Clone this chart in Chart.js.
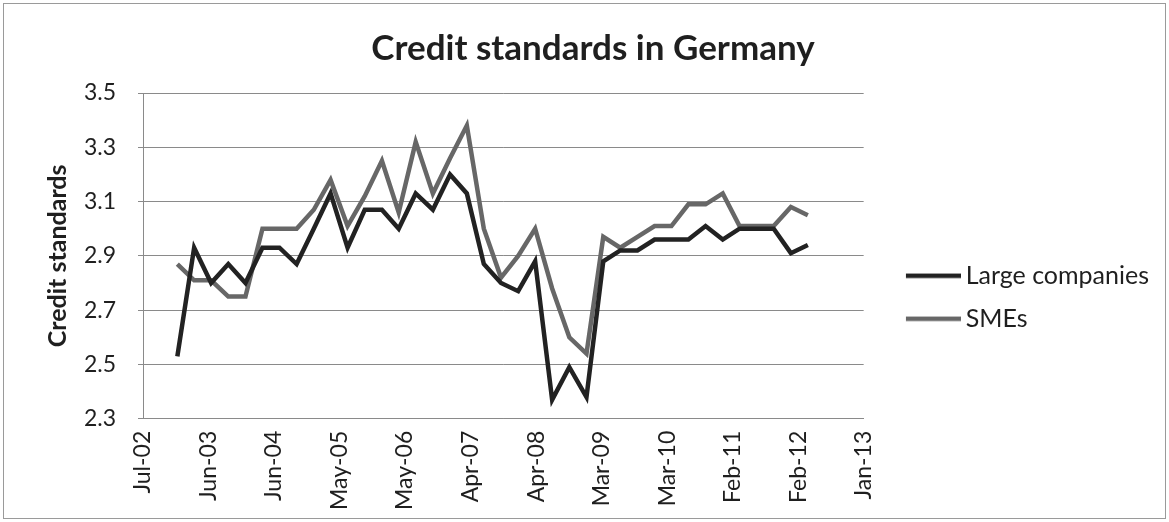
<!DOCTYPE html>
<html>
<head>
<meta charset="utf-8">
<title>Credit standards in Germany</title>
<script src="https://cdn.jsdelivr.net/npm/chart.js@4.4.1/dist/chart.umd.min.js"></script>
<style>
  html, body { margin: 0; padding: 0; background: #fff; }
  #wrap { position: relative; width: 1169px; height: 522px; }
  #frame { position: absolute; left: 3px; top: 3px; width: 1161px; height: 514px;
           border: 1px solid #9a9a9a; pointer-events: none; }
  canvas { display: block; }
</style>
</head>
<body>
<div id="wrap">
  <canvas id="chart" width="1169" height="522"></canvas>
  <div id="frame"></div>
</div>
<script>
// Survey dates (quarterly, first month of each quarter)
const quarters = [
  '2003-01','2003-04','2003-07','2003-10',
  '2004-01','2004-04','2004-07','2004-10',
  '2005-01','2005-04','2005-07','2005-10',
  '2006-01','2006-04','2006-07','2006-10',
  '2007-01','2007-04','2007-07','2007-10',
  '2008-01','2008-04','2008-07','2008-10',
  '2009-01','2009-04','2009-07','2009-10',
  '2010-01','2010-04','2010-07','2010-10',
  '2011-01','2011-04','2011-07','2011-10',
  '2012-01','2012-04'
];

const largeCompanies = [
  2.53, 2.93, 2.80, 2.87,
  2.80, 2.93, 2.93, 2.87,
  3.00, 3.13, 2.93, 3.07,
  3.07, 3.00, 3.13, 3.07,
  3.20, 3.13, 2.87, 2.80,
  2.77, 2.88, 2.37, 2.49,
  2.38, 2.88, 2.92, 2.92,
  2.96, 2.96, 2.96, 3.01,
  2.96, 3.00, 3.00, 3.00,
  2.91, 2.94
];

const smes = [
  2.87, 2.81, 2.81, 2.75,
  2.75, 3.00, 3.00, 3.00,
  3.07, 3.18, 3.01, 3.12,
  3.25, 3.06, 3.32, 3.13,
  3.26, 3.38, 3.00, 2.82,
  2.90, 3.00, 2.78, 2.60,
  2.54, 2.97, 2.93, 2.97,
  3.01, 3.01, 3.09, 3.09,
  3.13, 3.01, 3.01, 3.01,
  3.08, 3.05
];

const yTickValues = [2.3, 2.5, 2.7, 2.9, 3.1, 3.3, 3.5];

// Date axis: origin 1 Jul 2002, one major unit every 351 days, 11 units
const AXIS_ORIGIN = Date.UTC(2002, 6, 1);
const DAY_MS = 86400000;
const MAJOR_UNIT_DAYS = 351;
const MAJOR_UNITS = 11;
const MONTHS = ['Jan','Feb','Mar','Apr','May','Jun','Jul','Aug','Sep','Oct','Nov','Dec'];

function dayOf(q) {
  const [y, m] = q.split('-').map(Number);
  return (Date.UTC(y, m - 1, 1) - AXIS_ORIGIN) / DAY_MS;
}
function formatDay(d) {
  const dt = new Date(AXIS_ORIGIN + d * DAY_MS);
  return MONTHS[dt.getUTCMonth()] + '-' + String(dt.getUTCFullYear() % 100).padStart(2, '0');
}
const xTickDays = Array.from({ length: MAJOR_UNITS + 1 }, (_, k) => k * MAJOR_UNIT_DAYS);

const FONT = 'Lato, "Open Sans", sans-serif';
const TEXT = '#1f1f1f';
const GRID = '#8a8a8a';
const LINE_WIDTH = 4.5;

// Legend sample: a short line at the right end of a wider, transparent strip,
// which leaves a gap between the plot area and the legend
function legendSwatch(color) {
  const c = document.createElement('canvas');
  c.width = 87; c.height = 6;
  const g = c.getContext('2d');
  g.fillStyle = color;
  g.fillRect(32, (6 - LINE_WIDTH) / 2, 55, LINE_WIDTH);
  return c;
}

// Let the right-hand legend be as wide as its longest label needs
const legendRoom = {
  id: 'legendRoom',
  beforeLayout(chart) {
    const lg = chart.legend;
    if (lg && !lg._roomPatched) {
      const update = lg.update.bind(lg);
      lg.update = (maxWidth, maxHeight, margins) => update(Math.max(maxWidth, 320), maxHeight, margins);
      lg._roomPatched = true;
    }
  }
};

const toPoints = vals => quarters.map((q, i) => ({ x: dayOf(q), y: vals[i] }));

const seriesStyle = color => ({
  borderColor: color, backgroundColor: color, borderWidth: LINE_WIDTH,
  pointRadius: 0, pointHoverRadius: 0, pointStyle: legendSwatch(color),
  tension: 0, fill: false
});

new Chart(document.getElementById('chart'), {
  type: 'line',
  data: {
    datasets: [
      { label: 'Large companies', data: toPoints(largeCompanies), ...seriesStyle('#222222') },
      { label: 'SMEs', data: toPoints(smes), ...seriesStyle('#676767') }
    ]
  },
  plugins: [legendRoom],
  options: {
    responsive: false,
    animation: false,
    layout: { padding: { left: 27, right: 10, top: 14, bottom: 8 } },
    plugins: {
      title: {
        display: true, text: 'Credit standards in Germany', color: TEXT,
        font: { family: FONT, size: 35, weight: 'bold' },
        padding: { top: 14, bottom: 23 }
      },
      legend: {
        position: 'right',
        title: { display: true, text: '', padding: { top: 0, bottom: 52 }, font: { size: 12 } },
        labels: {
          usePointStyle: true, pointStyleWidth: 71.5,
          padding: 18, color: TEXT,
          font: { family: FONT, size: 25 }
        }
      },
      tooltip: { enabled: false }
    },
    scales: {
      x: {
        type: 'linear', min: 0, max: MAJOR_UNITS * MAJOR_UNIT_DAYS,
        afterBuildTicks: s => { s.ticks = xTickDays.map(v => ({ value: v })); },
        grid: { display: false },
        border: { display: true, color: GRID, width: 1 },
        ticks: {
          autoSkip: false, minRotation: 90, maxRotation: 90, padding: 4,
          color: TEXT, font: { family: FONT, size: 23 },
          callback: v => formatDay(v)
        }
      },
      y: {
        min: 2.3, max: 3.5,
        afterBuildTicks: s => { s.ticks = yTickValues.map(v => ({ value: v })); },
        afterFit: s => { s.width = 116; },
        grid: { color: GRID, lineWidth: 1, tickLength: 5 },
        border: { display: true, color: GRID, width: 1 },
        ticks: {
          padding: 22, color: TEXT, font: { family: FONT, size: 23 },
          callback: v => v.toFixed(1)
        },
        title: {
          display: true, text: 'Credit standards', color: TEXT,
          font: { family: FONT, size: 25, weight: 'bold' }, padding: { top: 16, bottom: 0 }
        }
      }
    }
  }
});
</script>
</body>
</html>
